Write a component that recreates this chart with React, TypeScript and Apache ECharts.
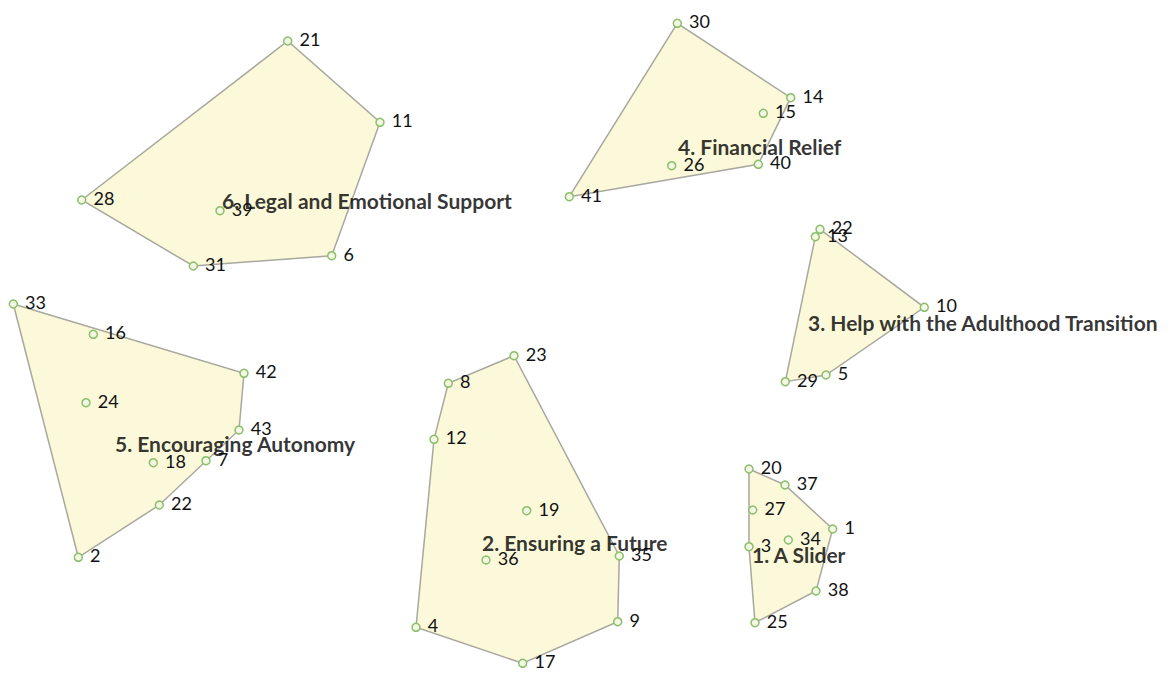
import React, { useEffect, useRef } from "react";
import * as echarts from "echarts";

// Cluster names (label text) and their label anchors (data coordinates)
const clusterNames = [
  "1. A Slider",
  "2. Ensuring a Future",
  "3. Help with the Adulthood Transition",
  "4. Financial Relief",
  "5. Encouraging Autonomy",
  "6. Legal and Emotional Support",
];
const clusterLabelX = [752, 482, 808, 678, 115, 222];
const clusterLabelY = [554, 542, 322, 146, 443, 200];

// Statement points: id, x, y, cluster index
const pointIds = [
  20, 37, 27, 1, 3, 34, 38, 25,
  23, 8, 12, 19, 36, 35, 9, 4, 17,
  22, 13, 10, 29, 5,
  30, 14, 15, 26, 40, 41,
  33, 16, 42, 24, 43, 18, 7, 22, 2,
  21, 11, 28, 39, 31, 6,
];
const pointX = [
  749, 785, 752.7, 832.7, 749, 788.3, 816, 755,
  514, 448.3, 434, 526.7, 486, 619.3, 617.7, 416, 522.7,
  820, 815.3, 924.3, 785.3, 826,
  677.3, 790.7, 763.3, 671.7, 758.3, 569.3,
  13.3, 93.3, 244, 86, 239, 153.3, 206, 159.3, 78.3,
  287.7, 380, 81.7, 220, 193.3, 331.7,
];
const pointY = [
  469, 485, 510, 529, 546.7, 540, 591, 622.7,
  355.7, 383.3, 439.3, 510.7, 560, 556, 621.7, 627.3, 663.3,
  229.3, 236.7, 307.3, 381.7, 375,
  23.3, 97.7, 113.3, 165.7, 164.3, 196.7,
  304, 334.3, 373.3, 402.7, 430, 462.7, 460.7, 505, 557.3,
  41, 122.3, 200, 210.7, 266, 255.7,
];
const pointCluster = [
  0, 0, 0, 0, 0, 0, 0, 0,
  1, 1, 1, 1, 1, 1, 1, 1, 1,
  2, 2, 2, 2, 2,
  3, 3, 3, 3, 3, 3,
  4, 4, 4, 4, 4, 4, 4, 4, 4,
  5, 5, 5, 5, 5, 5,
];

function convexHull(pts: number[][]): number[][] {
  const p = pts.slice().sort((a, b) => a[0] - b[0] || a[1] - b[1]);
  if (p.length < 3) return p;
  const cross = (o: number[], a: number[], b: number[]) =>
    (a[0] - o[0]) * (b[1] - o[1]) - (a[1] - o[1]) * (b[0] - o[0]);
  const lower: number[][] = [];
  for (const q of p) {
    while (lower.length >= 2 && cross(lower[lower.length - 2], lower[lower.length - 1], q) <= 0) lower.pop();
    lower.push(q);
  }
  const upper: number[][] = [];
  for (let i = p.length - 1; i >= 0; i--) {
    const q = p[i];
    while (upper.length >= 2 && cross(upper[upper.length - 2], upper[upper.length - 1], q) <= 0) upper.pop();
    upper.push(q);
  }
  upper.pop();
  lower.pop();
  return lower.concat(upper);
}

export default function App() {
  const ref = useRef<HTMLDivElement>(null);
  useEffect(() => {
    if (!ref.current) return;
    const chart = echarts.init(ref.current, null, { renderer: "svg" });

    const hulls = clusterNames.map((_, c) => {
      const pts: number[][] = [];
      pointIds.forEach((_, i) => {
        if (pointCluster[i] === c) pts.push([pointX[i], pointY[i]]);
      });
      return convexHull(pts);
    });

    const font = "Lato, 'Open Sans', sans-serif";

    chart.setOption({
      animation: false,
      backgroundColor: "#ffffff",
      grid: { left: 0, right: 0, top: 0, bottom: 0 },
      xAxis: { type: "value", min: 0, max: 1168, show: false },
      yAxis: { type: "value", min: 0, max: 673, inverse: true, show: false },
      tooltip: { show: false },
      series: [
        {
          type: "custom",
          coordinateSystem: "cartesian2d",
          silent: true,
          z: 1,
          data: clusterNames.map((_, c) => [c]),
          renderItem: (params: any, api: any) => {
            const hull = hulls[params.dataIndex];
            const points = hull.map((q) => api.coord(q));
            return {
              type: "polygon",
              shape: { points },
              style: { fill: "#FBF9DA", stroke: "#A8A89E", lineWidth: 1.5 },
            };
          },
        },
        {
          type: "scatter",
          z: 3,
          symbol: "circle",
          symbolSize: 8,
          itemStyle: { color: "#F3F7E3", borderColor: "#8CBF6C", borderWidth: 1.5, opacity: 1 },
          label: {
            show: true,
            position: "right",
            distance: 7,
            offset: [0, -2],
            formatter: (p: any) => String(p.value[2]),
            color: "#111111",
            fontSize: 18,
            fontFamily: font,
          },
          data: pointIds.map((id, i) => [pointX[i], pointY[i], id]),
        },
        {
          type: "scatter",
          z: 5,
          symbolSize: 0,
          silent: true,
          label: {
            show: true,
            position: "right",
            distance: 0,
            formatter: (p: any) => String(p.value[2]),
            color: "#000000",
            fontSize: 21,
            fontWeight: "bold",
            fontFamily: font,
          },
          data: clusterNames.map((n, c) => [clusterLabelX[c], clusterLabelY[c], n]),
        },
      ],
    });
    return () => chart.dispose();
  }, []);
  return (
    <div
      ref={ref}
      style={{ position: "absolute", left: 0, top: 0, width: 1168, height: 673 }}
    />
  );
}
